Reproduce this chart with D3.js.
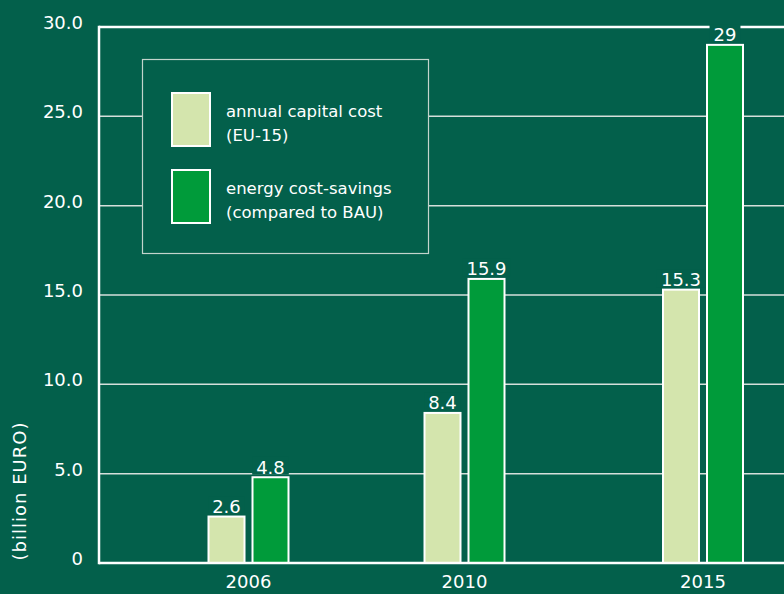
<!DOCTYPE html>
<html><head><meta charset="utf-8">
<script src="https://cdn.jsdelivr.net/npm/d3@7"></script>
<style>
html,body{margin:0;padding:0;background:#03604b;}
svg{display:block}
text{font-family:"DejaVu Sans",sans-serif;fill:#ffffff;}
</style>
</head><body>
<svg id="chart" width="784" height="594"></svg>
<script>
// Chart data
const years = [2006, 2010, 2015];
const capitalCost = [2.6, 8.4, 15.3];
const energySavings = [4.8, 15.9, 29];
const capitalLabels = ["2.6", "8.4", "15.3"];
const savingsLabels = ["4.8", "15.9", "29"];
const yTicks = [0, 5, 10, 15, 20, 25, 30];
const yTickLabels = ["0", "5.0", "10.0", "15.0", "20.0", "25.0", "30.0"];
const seriesNames = [["annual capital cost", "(EU-15)"], ["energy cost-savings", "(compared to BAU)"]];
const yTitle = "(billion EURO)";

const W = 784, H = 594;
const bg = "#03604b", lightFill = "#d4e5ad", darkFill = "#009b3a";
const plotLeft = 99, plotRight = 790, plotTop = 27, plotBottom = 563;

const svg = d3.select("#chart");
svg.append("rect").attr("width", W).attr("height", H).attr("fill", bg);

const y = d3.scaleLinear().domain([0, 30]).range([plotBottom, plotTop]);
const x = d3.scaleLinear().domain(years).range([248.5, 464.5, 703]);
const barW = 36, gap = 6;

// gridlines
svg.append("g").selectAll("line")
  .data(yTicks.filter(t => t > 0 && t < 30))
  .join("line")
  .attr("x1", plotLeft).attr("x2", plotRight)
  .attr("y1", d => y(d)).attr("y2", d => y(d))
  .attr("stroke", "#d6dfdb").attr("stroke-width", 1.5);

// y tick labels
svg.append("g").selectAll("text")
  .data(yTicks)
  .join("text")
  .attr("x", 83).attr("y", d => y(d) + 2)
  .attr("text-anchor", "end")
  .attr("font-size", 18)
  .text((d, i) => yTickLabels[i]);

// legend box
const lg = svg.append("g");
lg.append("rect").attr("x", 142.5).attr("y", 59.5).attr("width", 286).attr("height", 194)
  .attr("fill", bg).attr("stroke", "#c3d4cc").attr("stroke-width", 1.2);
[lightFill, darkFill].forEach((c, i) => {
  const top = 92 + i * 77;
  lg.append("rect").attr("x", 172).attr("y", top + 1).attr("width", 38).attr("height", 53)
    .attr("fill", c).attr("stroke", "#fff").attr("stroke-width", 2);
  seriesNames[i].forEach((line, j) => {
    lg.append("text").attr("x", 226).attr("y", top + 25 + j * 24)
      .attr("font-size", 16.5).text(line);
  });
});

// bars
const bars = svg.append("g");
years.forEach((yr, i) => {
  const cx = x(yr);
  const data = [
    { v: capitalCost[i], fill: lightFill, left: cx - gap / 2 - barW - 1 },
    { v: energySavings[i], fill: darkFill, left: cx + gap / 2 + 1 }
  ];
  data.forEach(d => {
    bars.append("rect").attr("x", d.left).attr("y", y(d.v))
      .attr("width", barW).attr("height", y(0) - y(d.v))
      .attr("fill", d.fill).attr("stroke", "#fff").attr("stroke-width", 2);
  });
});

// axis frame
svg.append("line").attr("x1", plotLeft).attr("x2", plotRight).attr("y1", y(30)).attr("y2", y(30))
  .attr("stroke", "#fff").attr("stroke-width", 2.5);
svg.append("line").attr("x1", plotLeft).attr("x2", plotLeft).attr("y1", y(30) - 1.25).attr("y2", y(0) + 1.25)
  .attr("stroke", "#fff").attr("stroke-width", 2.5);
svg.append("line").attr("x1", plotLeft).attr("x2", plotRight).attr("y1", y(0)).attr("y2", y(0))
  .attr("stroke", "#fff").attr("stroke-width", 2.5);

// value labels, each on a small background patch so it breaks the frame line
const labels = svg.append("g");
years.forEach((yr, i) => {
  const cx = x(yr);
  [[capitalCost[i], capitalLabels[i], cx - gap / 2 - barW / 2 - 1],
   [energySavings[i], savingsLabels[i], cx + gap / 2 + barW / 2 + 1]].forEach(([v, lab, lx]) => {
    const t = labels.append("text").attr("x", lx).attr("y", y(v) - 3.5)
      .attr("text-anchor", "middle").attr("font-size", 18).text(lab);
    const bb = t.node().getBBox();
    labels.insert("rect", "text").attr("x", bb.x - 4).attr("y", bb.y)
      .attr("width", bb.width + 8).attr("height", bb.height - 3).attr("fill", bg);
  });
});

// x tick labels
svg.append("g").selectAll("text")
  .data(years).join("text")
  .attr("x", d => x(d)).attr("y", 588)
  .attr("text-anchor", "middle").attr("font-size", 18)
  .text(d => d);

// y axis title
svg.append("text")
  .attr("transform", "translate(26,491) rotate(-90)")
  .attr("text-anchor", "middle").attr("font-size", 18)
  .attr("letter-spacing", 1)
  .text(yTitle);
</script>
</body></html>
